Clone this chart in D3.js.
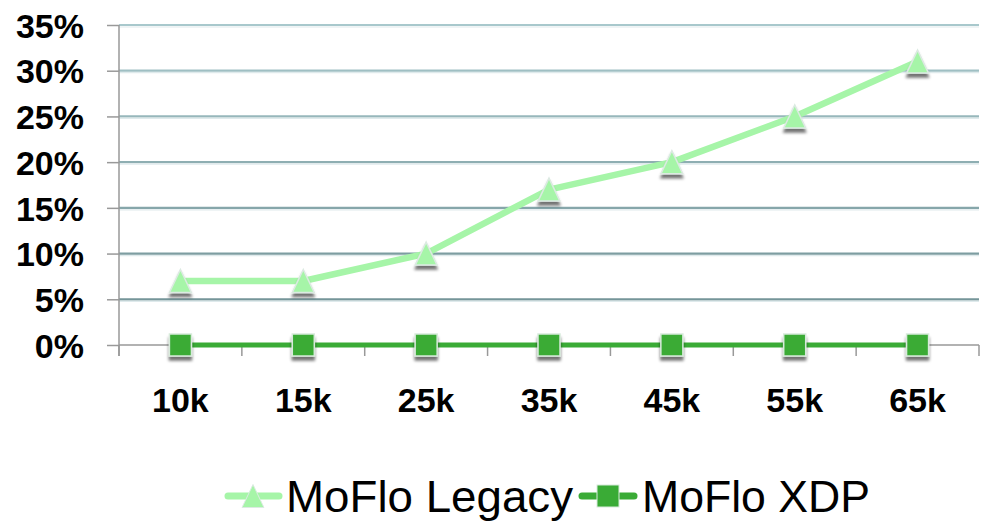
<!DOCTYPE html>
<html>
<head>
<meta charset="utf-8">
<script src="https://cdn.jsdelivr.net/npm/d3@7/dist/d3.min.js"></script>
<style>
  html, body { margin: 0; padding: 0; background: #fff; }
  svg { display: block; font-family: "Liberation Sans", Arial, sans-serif; }
</style>
</head>
<body>
<svg id="chart" width="984" height="522"></svg>
<script>
const categories = ["10k", "15k", "25k", "35k", "45k", "55k", "65k"];
const legacyValues = [7, 7, 10, 17, 20, 25, 31];
const xdpValues = [0, 0, 0, 0, 0, 0, 0];
const yTicks = [0, 5, 10, 15, 20, 25, 30, 35];
const seriesNames = ["MoFlo Legacy", "MoFlo XDP"];

const legacyColor = "#a6f5a8";
const xdpColor = "#3aab36";

const svg = d3.select("#chart");
const margin = { left: 119, right: 5, top: 25, bottom: 177 };
const W = 984, H = 522;

const x = d3.scaleBand().domain(categories).range([margin.left, W - margin.right]);
const y = d3.scaleLinear().domain([0, 35]).range([H - margin.bottom, margin.top]);

const defs = svg.append("defs");
const f = defs.append("filter").attr("id", "shadow").attr("x", "-50%").attr("y", "-50%").attr("width", "200%").attr("height", "200%");
f.append("feGaussianBlur").attr("in", "SourceAlpha").attr("stdDeviation", 1.6).attr("result", "b");
f.append("feOffset").attr("in", "b").attr("dy", 4).attr("result", "o");
f.append("feComponentTransfer").attr("in", "o").attr("result", "oa")
  .append("feFuncA").attr("type", "linear").attr("slope", 0.55);
const fm = f.append("feMerge");
fm.append("feMergeNode").attr("in", "oa");
fm.append("feMergeNode").attr("in", "SourceGraphic");

// gridlines
const gridColor = d3.interpolateRgb("#6c8c90", "#a8c8cc");
svg.append("g").selectAll("line")
  .data(yTicks.filter(d => d > 0))
  .join("line")
  .attr("x1", margin.left).attr("x2", W - margin.right)
  .attr("y1", d => y(d)).attr("y2", d => y(d))
  .attr("stroke", d => gridColor(d / 35))
  .attr("stroke-width", 2.2);
svg.append("g").selectAll("line")
  .data(yTicks.filter(d => d > 0))
  .join("line")
  .attr("x1", margin.left).attr("x2", W - margin.right)
  .attr("y1", d => y(d) + 2).attr("y2", d => y(d) + 2)
  .attr("stroke", "#dfeaec")
  .attr("stroke-width", 1.2);

// y axis
const yAxis = d3.axisLeft(y).tickValues(yTicks).tickSize(12).tickFormat(d => d + "%");
const gy = svg.append("g").attr("transform", `translate(${margin.left},0)`).call(yAxis);
gy.select(".domain").attr("stroke", "#999").attr("stroke-width", 1.5)
  .attr("d", `M0,${y(35)}V${y(0) + 11}`);
gy.selectAll(".tick line").attr("stroke", "#999").attr("stroke-width", 1.5);
gy.selectAll(".tick text")
  .attr("x", -35).attr("dy", "0.36em")
  .attr("font-size", 34).attr("font-weight", "bold").attr("fill", "#000")
  .attr("font-family", "'Liberation Sans', Arial, sans-serif");

// x axis
const gx = svg.append("g").attr("transform", `translate(0,${y(0)})`);
gx.append("line").attr("x1", margin.left).attr("x2", W - margin.right)
  .attr("y1", 0).attr("y2", 0).attr("stroke", "#999").attr("stroke-width", 1.5);
const bounds = categories.map(c => x(c)).concat([x(categories[categories.length - 1]) + x.bandwidth()]);
gx.selectAll("line.tk").data(bounds).join("line").attr("class", "tk")
  .attr("x1", d => d).attr("x2", d => d).attr("y1", 0).attr("y2", 11)
  .attr("stroke", "#999").attr("stroke-width", 1.5);
gx.selectAll("text").data(categories).join("text")
  .attr("x", d => x(d) + x.bandwidth() / 2)
  .attr("y", 67)
  .attr("text-anchor", "middle")
  .attr("font-size", 34).attr("font-weight", "bold").attr("fill", "#000")
  .text(d => d);

const cx = d => x(d) + x.bandwidth() / 2;

// XDP line
const line = d3.line();
svg.append("path")
  .datum(categories.map((c, i) => [cx(c), y(xdpValues[i])]))
  .attr("d", line).attr("fill", "none").attr("stroke", xdpColor).attr("stroke-width", 5);

// Legacy line
svg.append("path")
  .datum(categories.map((c, i) => [cx(c), y(legacyValues[i])]))
  .attr("d", line).attr("fill", "none").attr("stroke", legacyColor).attr("stroke-width", 6.5)
  .attr("stroke-linejoin", "round");

// markers: triangle roughly as tall as wide, centred on the point
const tallTriangle = {
  draw(ctx, size) {
    const h = Math.sqrt(size);
    const w = h * 0.95;
    ctx.moveTo(0, -h / 2);
    ctx.lineTo(w / 2, h / 2);
    ctx.lineTo(-w / 2, h / 2);
    ctx.closePath();
  }
};
const tri = d3.symbol().type(tallTriangle).size(23 * 23);
svg.append("g").selectAll("path")
  .data(categories)
  .join("path")
  .attr("d", tri)
  .attr("transform", (c, i) => `translate(${cx(c)},${y(legacyValues[i])})`)
  .attr("fill", legacyColor).attr("stroke", "#dceae2").attr("stroke-width", 1.5)
  .attr("filter", "url(#shadow)");

svg.append("g").selectAll("rect")
  .data(categories)
  .join("rect")
  .attr("x", c => cx(c) - 11).attr("y", (c, i) => y(xdpValues[i]) - 11)
  .attr("width", 22).attr("height", 22)
  .attr("fill", xdpColor).attr("stroke", "#d8eadb").attr("stroke-width", 1.5)
  .attr("filter", "url(#shadow)");

// legend
const lg = svg.append("g");
const ly = 496;
// legacy
lg.append("line").attr("x1", 228).attr("x2", 279).attr("y1", ly).attr("y2", ly)
  .attr("stroke", legacyColor).attr("stroke-width", 7).attr("stroke-linecap", "round");
lg.append("path").attr("d", tri).attr("transform", `translate(253,${ly})`)
  .attr("fill", legacyColor).attr("stroke", "#dceae2").attr("stroke-width", 1);
lg.append("text").attr("x", 286).attr("y", 512).attr("font-size", 44).attr("fill", "#000")
  .attr("textLength", 287).attr("lengthAdjust", "spacingAndGlyphs")
  .text(seriesNames[0]);
// xdp
lg.append("line").attr("x1", 582).attr("x2", 634).attr("y1", ly).attr("y2", ly)
  .attr("stroke", xdpColor).attr("stroke-width", 7).attr("stroke-linecap", "round");
lg.append("rect").attr("x", 597).attr("y", ly - 11).attr("width", 22).attr("height", 22)
  .attr("fill", xdpColor).attr("stroke", "#d8eadb").attr("stroke-width", 1);
lg.append("text").attr("x", 642).attr("y", 512).attr("font-size", 44).attr("fill", "#000")
  .attr("textLength", 228).attr("lengthAdjust", "spacingAndGlyphs")
  .text(seriesNames[1]);
</script>
</body>
</html>
